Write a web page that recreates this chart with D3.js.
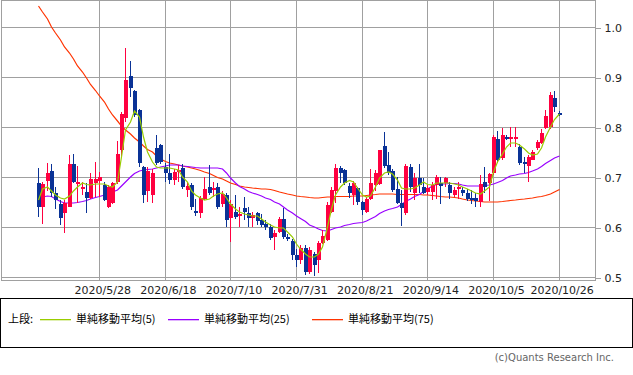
<!DOCTYPE html>
<html><head><meta charset="utf-8">
<script src="https://cdn.jsdelivr.net/npm/d3@7"></script>
<style>body{margin:0;background:#fff}svg{display:block}</style>
</head><body><svg id="c" width="633" height="375"></svg>
<script>
const open  = [0.688,0.640,0.692,0.712,0.668,0.646,0.628,0.640,0.726,0.686,0.676,0.670,0.658,0.688,0.692,0.684,0.640,0.648,0.690,0.754,
0.818,0.902,0.872,0.834,0.720,0.672,0.664,0.758,0.764,0.720,0.708,0.694,0.710,0.718,0.674,0.684,0.632,0.628,0.656,0.680,
0.674,0.680,0.646,0.664,0.618,0.630,0.622,0.638,0.628,0.618,0.628,0.614,0.606,0.600,0.580,0.590,0.616,0.580,0.572,0.544,
0.534,0.558,0.510,0.546,0.534,0.568,0.574,0.630,0.672,0.718,0.714,0.682,0.664,0.678,0.650,0.630,0.656,0.684,0.686,0.762,
0.724,0.712,0.676,0.648,0.628,0.720,0.668,0.698,0.680,0.670,0.670,0.684,0.688,0.688,0.684,0.664,0.676,0.674,0.668,0.658,
0.658,0.650,0.690,0.688,0.708,0.776,0.738,0.780,0.776,0.776,0.760,0.730,0.722,0.734,0.758,0.768,0.798,0.800,0.858,0.828];
const close = [0.640,0.686,0.708,0.668,0.654,0.618,0.648,0.726,0.690,0.690,0.680,0.658,0.696,0.696,0.700,0.654,0.680,0.688,0.746,0.826,
0.894,0.878,0.824,0.728,0.664,0.712,0.708,0.728,0.730,0.708,0.694,0.710,0.714,0.680,0.682,0.640,0.628,0.658,0.676,0.668,
0.678,0.640,0.666,0.614,0.646,0.620,0.626,0.630,0.618,0.624,0.612,0.604,0.600,0.578,0.588,0.616,0.580,0.578,0.544,0.534,
0.558,0.510,0.554,0.524,0.568,0.582,0.644,0.674,0.718,0.708,0.688,0.668,0.688,0.650,0.634,0.656,0.688,0.708,0.754,0.722,
0.708,0.674,0.648,0.638,0.722,0.680,0.698,0.684,0.668,0.678,0.684,0.700,0.682,0.698,0.668,0.674,0.680,0.668,0.656,0.654,
0.652,0.686,0.680,0.706,0.780,0.734,0.784,0.776,0.780,0.780,0.728,0.726,0.740,0.750,0.770,0.788,0.822,0.864,0.840,0.824];
const high  = [0.718,0.690,0.728,0.726,0.680,0.654,0.654,0.744,0.746,0.722,0.690,0.688,0.708,0.730,0.710,0.690,0.684,0.690,0.772,0.830,
0.958,0.932,0.874,0.836,0.722,0.720,0.716,0.784,0.766,0.728,0.746,0.716,0.724,0.726,0.690,0.688,0.656,0.662,0.700,0.724,
0.690,0.688,0.672,0.668,0.654,0.664,0.640,0.660,0.640,0.630,0.630,0.626,0.614,0.606,0.594,0.620,0.638,0.586,0.576,0.556,
0.564,0.564,0.560,0.550,0.572,0.594,0.650,0.680,0.726,0.722,0.716,0.688,0.692,0.680,0.652,0.660,0.716,0.714,0.754,0.790,
0.750,0.716,0.700,0.674,0.726,0.726,0.708,0.726,0.698,0.684,0.690,0.704,0.700,0.700,0.690,0.680,0.690,0.680,0.676,0.674,
0.668,0.704,0.720,0.708,0.784,0.792,0.798,0.784,0.800,0.800,0.766,0.740,0.744,0.754,0.774,0.796,0.834,0.870,0.872,0.832];
const low   = [0.620,0.606,0.672,0.660,0.636,0.604,0.588,0.640,0.688,0.648,0.664,0.628,0.656,0.660,0.660,0.652,0.638,0.646,0.686,0.740,
0.810,0.860,0.820,0.720,0.648,0.650,0.648,0.724,0.726,0.690,0.686,0.684,0.690,0.676,0.660,0.634,0.622,0.618,0.654,0.664,
0.660,0.636,0.640,0.600,0.570,0.616,0.600,0.614,0.600,0.600,0.604,0.600,0.594,0.574,0.554,0.588,0.576,0.572,0.534,0.520,
0.526,0.504,0.506,0.502,0.508,0.566,0.572,0.628,0.648,0.688,0.684,0.658,0.644,0.644,0.624,0.628,0.654,0.672,0.684,0.718,
0.704,0.670,0.646,0.602,0.624,0.670,0.654,0.668,0.666,0.664,0.654,0.656,0.646,0.680,0.656,0.660,0.656,0.662,0.652,0.646,
0.640,0.640,0.668,0.652,0.704,0.728,0.734,0.774,0.760,0.760,0.724,0.708,0.690,0.734,0.754,0.766,0.796,0.796,0.830,0.822];
const ma5 = [0.654,0.676,0.680,0.672,0.664,0.658,0.656,0.662,0.672,0.680,0.688,0.685,0.684,0.686,0.686,0.686,0.682,0.680,0.690,0.740,
0.794,0.810,0.832,0.820,0.780,0.750,0.730,0.720,0.718,0.718,0.718,0.716,0.714,0.700,0.690,0.672,0.664,0.658,0.654,0.656,
0.662,0.666,0.668,0.658,0.646,0.636,0.630,0.626,0.624,0.622,0.622,0.616,0.610,0.604,0.600,0.598,0.598,0.590,0.580,0.566,
0.556,0.546,0.540,0.540,0.546,0.560,0.600,0.636,0.664,0.680,0.688,0.693,0.690,0.678,0.664,0.660,0.662,0.680,0.698,0.708,
0.710,0.706,0.694,0.678,0.676,0.676,0.678,0.684,0.690,0.685,0.684,0.688,0.688,0.688,0.688,0.686,0.684,0.680,0.676,0.672,
0.668,0.666,0.672,0.680,0.710,0.730,0.746,0.760,0.768,0.768,0.764,0.756,0.748,0.744,0.746,0.758,0.780,0.800,0.815,0.826];
const ma25 = [0.652,0.660,0.662,0.661,0.656,0.651,0.648,0.648,0.648,0.649,0.651,0.653,0.656,0.659,0.661,0.664,0.667,0.670,0.674,0.682,
0.690,0.700,0.707,0.712,0.714,0.715,0.716,0.718,0.720,0.722,0.724,0.724,0.724,0.722,0.721,0.720,0.719,0.718,0.718,0.718,
0.718,0.718,0.716,0.708,0.698,0.688,0.681,0.676,0.671,0.668,0.665,0.662,0.658,0.655,0.650,0.646,0.640,0.634,0.628,0.622,
0.617,0.611,0.604,0.600,0.596,0.593,0.592,0.595,0.598,0.600,0.603,0.605,0.607,0.608,0.609,0.612,0.616,0.621,0.627,0.632,
0.635,0.637,0.640,0.645,0.651,0.656,0.661,0.665,0.671,0.676,0.682,0.685,0.686,0.686,0.687,0.687,0.686,0.684,0.682,0.682,
0.682,0.682,0.683,0.684,0.686,0.689,0.693,0.698,0.702,0.704,0.706,0.707,0.709,0.712,0.716,0.721,0.727,0.733,0.738,0.742];
const ma75 = [1.042,1.030,1.016,1.000,0.988,0.974,0.960,0.948,0.936,0.922,0.910,0.898,0.885,0.873,0.862,0.850,0.836,0.824,0.812,0.802,
0.794,0.786,0.778,0.770,0.762,0.755,0.750,0.742,0.736,0.731,0.728,0.726,0.724,0.722,0.720,0.718,0.716,0.713,0.710,0.707,
0.703,0.699,0.696,0.692,0.688,0.685,0.682,0.680,0.679,0.678,0.677,0.676,0.676,0.675,0.673,0.670,0.668,0.666,0.664,0.662,
0.661,0.660,0.659,0.658,0.658,0.659,0.660,0.660,0.661,0.661,0.661,0.661,0.662,0.662,0.662,0.663,0.664,0.665,0.666,0.666,
0.666,0.666,0.665,0.665,0.665,0.665,0.665,0.665,0.664,0.664,0.663,0.662,0.661,0.660,0.660,0.659,0.658,0.656,0.654,0.653,
0.652,0.651,0.650,0.650,0.650,0.650,0.651,0.652,0.653,0.654,0.655,0.656,0.657,0.658,0.660,0.661,0.663,0.666,0.670,0.675];
const tickIdx = [14,29,44,59,74,89,104,119];
const tickLabels = ["2020/5/28","2020/6/18","2020/7/10","2020/7/31","2020/8/21","2020/9/14","2020/10/5","2020/10/26"];
const yTicks = [0.5,0.6,0.7,0.8,0.9,1.0];
const legendNames = ["単純移動平均(5)","単純移動平均(25)","単純移動平均(75)"];
const maColors = ["#99cc00","#9900ff","#ff3300"];

const svg = d3.select("#c");
const n = open.length;
const x = d3.scaleLinear().domain([0, n-1]).range([38, 558.6]);
const y = d3.scaleLinear().domain([0.5, 1.0]).range([277, 27]);
const gridC = "#a0a0a0";
const g = svg.append("g").attr("shape-rendering","crispEdges");
g.selectAll(".hg").data(yTicks).enter().append("line")
 .attr("x1",1).attr("x2",595).attr("y1",d=>Math.round(y(d))+0.5).attr("y2",d=>Math.round(y(d))+0.5)
 .attr("stroke",gridC);
g.selectAll(".vg").data(tickIdx).enter().append("line")
 .attr("x1",d=>Math.round(x(d))+0.5).attr("x2",d=>Math.round(x(d))+0.5).attr("y1",0).attr("y2",280)
 .attr("stroke",gridC);
g.append("line").attr("x1",1.5).attr("x2",1.5).attr("y1",0).attr("y2",280).attr("stroke",gridC);
g.append("line").attr("x1",595.5).attr("x2",595.5).attr("y1",0).attr("y2",280.5).attr("stroke",gridC);
g.append("line").attr("x1",1).attr("x2",596).attr("y1",280.5).attr("y2",280.5).attr("stroke",gridC);
g.append("line").attr("x1",1).attr("x2",596).attr("y1",0.5).attr("y2",0.5).attr("stroke",gridC);

const ya = svg.append("g").attr("transform","translate(595.5,0.5)")
 .call(d3.axisRight(y).tickValues(yTicks).tickFormat(d3.format(".1f")).tickSize(5).tickPadding(4));
ya.select(".domain").remove();
ya.selectAll("line").attr("stroke",gridC).attr("shape-rendering","crispEdges");
ya.selectAll("text").attr("font-family","DejaVu Sans, Verdana, sans-serif").attr("font-size","11px").attr("fill","#222");

const xa = svg.append("g").attr("transform","translate(3,281)")
 .call(d3.axisBottom(x).tickValues(tickIdx).tickFormat((d,i)=>tickLabels[i]).tickSize(0).tickPadding(5));
xa.select(".domain").remove();
xa.selectAll("text").attr("font-family","DejaVu Sans, Verdana, sans-serif").attr("font-size","11px").attr("fill","#222");

const line = arr => d3.line().x((d,i)=>Math.round(x(i))+0.5).y(d=>y(d))(arr);
svg.append("clipPath").attr("id","pc").append("rect").attr("x",2).attr("y",1).attr("width",593).attr("height",279);
const pg = svg.append("g").attr("clip-path","url(#pc)");
[[ma75,maColors[2]],[ma25,maColors[1]]].forEach(([a,c])=>pg.append("path").attr("d",line(a)).attr("fill","none").attr("stroke",c).attr("stroke-width",1.2));

const up="#ff0040", dn="#0a3296";
const cg = pg.append("g").attr("shape-rendering","crispEdges");
d3.range(n).forEach(i=>{
  const cx = Math.round(x(i));
  const col = close[i]>=open[i]?up:dn;
  cg.append("line").attr("x1",cx+0.5).attr("x2",cx+0.5).attr("y1",y(high[i])).attr("y2",y(low[i])).attr("stroke",col);
  const top = y(Math.max(open[i],close[i])), bot = y(Math.min(open[i],close[i]));
  cg.append("rect").attr("x",cx-1).attr("width",4).attr("y",top).attr("height",Math.max(1.5,bot-top)).attr("fill",col);
});
pg.append("path").attr("d",line(ma5)).attr("fill","none").attr("stroke",maColors[0]).attr("stroke-width",1.2);

svg.append("rect").attr("x",0.5).attr("y",298.5).attr("width",632).attr("height",49).attr("fill","none").attr("stroke","#000").attr("shape-rendering","crispEdges");
const lf = "'Noto Sans CJK JP', sans-serif";
svg.append("text").attr("x",8).attr("y",323).attr("font-family",lf).attr("font-size","11px").attr("fill","#000").text("上段:");
const lx = [40,168,312];
legendNames.forEach((t,i)=>{
  svg.append("rect").attr("x",lx[i]).attr("y",319).attr("width",31).attr("height",1.3).attr("fill",maColors[i]);
  svg.append("text").attr("x",lx[i]+36).attr("y",323).attr("font-family",lf).attr("font-size","11px").attr("fill","#000").text(t);
});
svg.append("text").attr("x",614).attr("y",361).attr("text-anchor","end").attr("font-family","DejaVu Sans, sans-serif").attr("font-size","10px").attr("fill","#666").text("(c)Quants Research Inc.");
</script></body></html>
